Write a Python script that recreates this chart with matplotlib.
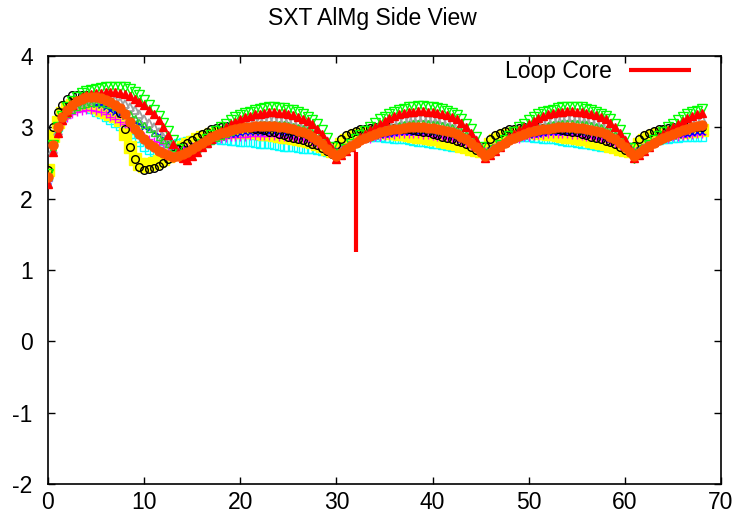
import numpy as np
import matplotlib
matplotlib.use("Agg")
import matplotlib.pyplot as plt

plt.rcParams['font.family'] = ['Liberation Sans', 'DejaVu Sans']
plt.rcParams['axes.unicode_minus'] = False

X_STEP = 0.5

green = [2.35, 2.75, 3.00, 3.16, 3.28, 3.37, 3.43, 3.48, 3.51, 3.53, 3.54, 3.55, 3.56, 3.57, 3.57, 3.57, 3.56, 3.54, 3.50, 3.45, 3.39, 3.32, 3.25, 3.16, 3.06, 2.95, 2.82, 2.70, 2.61, 2.57,
         2.63, 2.70, 2.76, 2.83, 2.89, 2.95, 3.00, 3.05, 3.10, 3.14, 3.17, 3.20, 3.22, 3.24, 3.26, 3.27, 3.28, 3.28, 3.27, 3.27, 3.25, 3.24, 3.22, 3.19, 3.15, 3.10, 3.04, 2.96, 2.85, 2.73, 2.59,
         2.63, 2.69, 2.76, 2.83, 2.89, 2.95, 3.01, 3.06, 3.11, 3.15, 3.19, 3.22, 3.24, 3.26, 3.28, 3.29, 3.30, 3.30, 3.29, 3.29, 3.27, 3.26, 3.23, 3.20, 3.17, 3.12, 3.05, 2.97, 2.86, 2.72, 2.58,
         2.62, 2.68, 2.75, 2.82, 2.88, 2.94, 3.00, 3.05, 3.10, 3.14, 3.18, 3.21, 3.23, 3.25, 3.27, 3.28, 3.29, 3.29, 3.28, 3.28, 3.26, 3.25, 3.22, 3.19, 3.16, 3.11, 3.04, 2.96, 2.85, 2.71, 2.57,
         2.62, 2.68, 2.75, 2.82, 2.88, 2.94, 3.00, 3.05, 3.10, 3.14, 3.18, 3.21, 3.23, 3.26]

red = [2.20, 2.65, 2.92, 3.10, 3.22, 3.32, 3.38, 3.42, 3.45, 3.47, 3.48, 3.48, 3.49, 3.49, 3.49, 3.48, 3.47, 3.44, 3.40, 3.36, 3.31, 3.25, 3.18, 3.10, 3.00, 2.89, 2.77, 2.65, 2.57, 2.54,
       2.60, 2.66, 2.72, 2.78, 2.84, 2.90, 2.95, 3.00, 3.04, 3.08, 3.11, 3.14, 3.16, 3.18, 3.19, 3.20, 3.21, 3.21, 3.20, 3.20, 3.18, 3.17, 3.15, 3.12, 3.09, 3.04, 2.98, 2.91, 2.81, 2.69, 2.56,
       2.61, 2.67, 2.73, 2.79, 2.86, 2.91, 2.96, 3.01, 3.05, 3.09, 3.13, 3.16, 3.18, 3.20, 3.21, 3.22, 3.23, 3.23, 3.22, 3.22, 3.20, 3.19, 3.17, 3.14, 3.11, 3.06, 3.00, 2.92, 2.82, 2.70, 2.57,
       2.61, 2.67, 2.73, 2.79, 2.86, 2.91, 2.96, 3.01, 3.05, 3.09, 3.13, 3.16, 3.18, 3.20, 3.21, 3.22, 3.23, 3.23, 3.22, 3.22, 3.20, 3.19, 3.17, 3.14, 3.11, 3.06, 3.00, 2.92, 2.82, 2.70, 2.57,
       2.61, 2.67, 2.73, 2.79, 2.86, 2.91, 2.96, 3.01, 3.05, 3.09, 3.13, 3.16, 3.18, 3.20]

gray = [2.20, 2.68, 2.95, 3.10, 3.20, 3.28, 3.33, 3.36, 3.38, 3.39, 3.40, 3.40, 3.40, 3.39, 3.38, 3.36, 3.33, 3.29, 3.24, 3.18, 3.12, 3.06, 3.00, 2.93, 2.86, 2.79, 2.71, 2.64, 2.60, 2.60,
        2.65, 2.69, 2.74, 2.79, 2.83, 2.88, 2.92, 2.95, 2.98, 3.02, 3.04, 3.06, 3.08, 3.09, 3.10, 3.11, 3.12, 3.12, 3.11, 3.11, 3.10, 3.09, 3.07, 3.05, 3.03, 2.99, 2.94, 2.89, 2.81, 2.71, 2.62,
        2.66, 2.71, 2.75, 2.80, 2.85, 2.89, 2.93, 2.97, 3.00, 3.03, 3.06, 3.08, 3.10, 3.11, 3.12, 3.13, 3.14, 3.14, 3.13, 3.13, 3.12, 3.11, 3.09, 3.07, 3.04, 3.01, 2.96, 2.90, 2.82, 2.73, 2.63,
        2.66, 2.71, 2.75, 2.80, 2.85, 2.89, 2.93, 2.97, 3.00, 3.03, 3.06, 3.08, 3.10, 3.11, 3.12, 3.13, 3.14, 3.14, 3.13, 3.13, 3.12, 3.11, 3.09, 3.07, 3.04, 3.01, 2.96, 2.90, 2.82, 2.73, 2.63,
        2.66, 2.71, 2.75, 2.80, 2.85, 2.89, 2.93, 2.97, 3.00, 3.03, 3.06, 3.08, 3.10, 3.11]

lightgreen = [2.30, 2.72, 2.97, 3.10, 3.18, 3.24, 3.28, 3.31, 3.33, 3.34, 3.34, 3.34, 3.33, 3.31, 3.29, 3.26, 3.22, 3.18, 3.13, 3.08, 3.03, 2.97, 2.92, 2.87, 2.82, 2.77, 2.71, 2.66, 2.63, 2.62,
              2.66, 2.70, 2.74, 2.77, 2.81, 2.85, 2.88, 2.91, 2.94, 2.96, 2.99, 3.00, 3.02, 3.03, 3.04, 3.05, 3.05, 3.05, 3.05, 3.04, 3.03, 3.02, 3.01, 2.99, 2.97, 2.94, 2.90, 2.86, 2.79, 2.71, 2.63,
              2.67, 2.71, 2.75, 2.78, 2.82, 2.86, 2.89, 2.92, 2.95, 2.97, 3.00, 3.01, 3.03, 3.04, 3.05, 3.06, 3.06, 3.06, 3.06, 3.05, 3.04, 3.03, 3.02, 3.00, 2.98, 2.95, 2.91, 2.87, 2.80, 2.72, 2.64,
              2.67, 2.71, 2.75, 2.78, 2.82, 2.86, 2.89, 2.92, 2.95, 2.97, 3.00, 3.01, 3.03, 3.04, 3.05, 3.06, 3.06, 3.06, 3.06, 3.05, 3.04, 3.03, 3.02, 3.00, 2.98, 2.95, 2.91, 2.87, 2.80, 2.72, 2.64,
              2.67, 2.71, 2.75, 2.78, 2.82, 2.86, 2.89, 2.92, 2.95, 2.97, 3.00, 3.01, 3.03, 3.04]

orange = [2.30, 2.75, 3.00, 3.15, 3.25, 3.32, 3.37, 3.40, 3.42, 3.42, 3.42, 3.41, 3.39, 3.36, 3.32, 3.27, 3.18, 3.08, 2.98, 2.90, 2.83, 2.77, 2.72, 2.67, 2.64, 2.61, 2.59, 2.60, 2.63, 2.66,
          2.70, 2.74, 2.78, 2.82, 2.86, 2.89, 2.92, 2.94, 2.96, 2.98, 2.99, 3.00, 3.01, 3.02, 3.02, 3.02, 3.02, 3.02, 3.01, 3.00, 2.99, 2.97, 2.95, 2.93, 2.90, 2.86, 2.82, 2.76, 2.70, 2.64, 2.60,
          2.64, 2.69, 2.74, 2.78, 2.82, 2.85, 2.88, 2.91, 2.93, 2.95, 2.96, 2.97, 2.98, 2.99, 3.00, 3.00, 3.00, 3.00, 2.99, 2.99, 2.98, 2.96, 2.95, 2.93, 2.90, 2.87, 2.83, 2.78, 2.72, 2.66, 2.60,
          2.64, 2.69, 2.74, 2.78, 2.82, 2.85, 2.88, 2.91, 2.93, 2.95, 2.96, 2.97, 2.98, 2.99, 3.00, 3.00, 3.00, 3.00, 2.99, 2.99, 2.98, 2.96, 2.95, 2.93, 2.90, 2.87, 2.83, 2.78, 2.72, 2.66, 2.60,
          2.64, 2.69, 2.74, 2.78, 2.82, 2.85, 2.88, 2.91, 2.94, 2.96, 2.98, 3.00, 3.02, 3.03]

blue = [2.25, 2.70, 2.95, 3.10, 3.20, 3.27, 3.31, 3.33, 3.34, 3.34, 3.33, 3.31, 3.28, 3.25, 3.22, 3.19, 3.16, 3.12, 3.08, 3.04, 3.00, 2.97, 2.93, 2.89, 2.85, 2.79, 2.72, 2.67, 2.66, 2.68,
        2.71, 2.74, 2.77, 2.80, 2.83, 2.85, 2.87, 2.89, 2.90, 2.91, 2.92, 2.93, 2.93, 2.94, 2.94, 2.94, 2.94, 2.94, 2.93, 2.93, 2.92, 2.91, 2.90, 2.88, 2.86, 2.83, 2.80, 2.76, 2.72, 2.68, 2.65,
        2.68, 2.72, 2.76, 2.79, 2.82, 2.84, 2.86, 2.88, 2.89, 2.90, 2.91, 2.92, 2.93, 2.93, 2.94, 2.94, 2.94, 2.94, 2.94, 2.93, 2.93, 2.92, 2.90, 2.88, 2.86, 2.83, 2.80, 2.76, 2.72, 2.68, 2.65,
        2.68, 2.72, 2.76, 2.79, 2.82, 2.84, 2.86, 2.88, 2.89, 2.90, 2.91, 2.92, 2.93, 2.93, 2.94, 2.94, 2.94, 2.94, 2.94, 2.93, 2.93, 2.92, 2.90, 2.88, 2.86, 2.83, 2.80, 2.76, 2.72, 2.68, 2.65,
        2.68, 2.72, 2.76, 2.79, 2.82, 2.84, 2.86, 2.88, 2.89, 2.90, 2.91, 2.92, 2.93, 2.93]

magenta = [2.25, 2.65, 2.90, 3.05, 3.13, 3.18, 3.21, 3.23, 3.24, 3.24, 3.23, 3.21, 3.18, 3.15, 3.12, 3.08, 3.04, 3.00, 2.96, 2.92, 2.88, 2.84, 2.81, 2.79, 2.77, 2.73, 2.69, 2.68, 2.70, 2.72,
           2.74, 2.76, 2.78, 2.80, 2.81, 2.83, 2.84, 2.85, 2.86, 2.86, 2.87, 2.87, 2.88, 2.88, 2.88, 2.88, 2.88, 2.88, 2.87, 2.87, 2.86, 2.85, 2.84, 2.83, 2.81, 2.79, 2.77, 2.74, 2.71, 2.68, 2.67,
           2.70, 2.73, 2.76, 2.79, 2.81, 2.83, 2.84, 2.86, 2.87, 2.88, 2.89, 2.89, 2.90, 2.90, 2.90, 2.90, 2.90, 2.89, 2.89, 2.88, 2.87, 2.86, 2.85, 2.83, 2.81, 2.79, 2.77, 2.74, 2.71, 2.68, 2.67,
           2.70, 2.73, 2.76, 2.79, 2.81, 2.83, 2.84, 2.86, 2.87, 2.88, 2.89, 2.89, 2.90, 2.90, 2.90, 2.90, 2.90, 2.89, 2.89, 2.88, 2.87, 2.86, 2.85, 2.83, 2.81, 2.79, 2.77, 2.74, 2.71, 2.68, 2.67,
           2.70, 2.73, 2.76, 2.79, 2.81, 2.83, 2.84, 2.86, 2.87, 2.88, 2.89, 2.89, 2.90, 2.90]

cyan = [2.30, 2.78, 3.00, 3.15, 3.25, 3.30, 3.32, 3.31, 3.29, 3.26, 3.22, 3.18, 3.14, 3.10, 3.06, 3.02, 2.97, 2.91, 2.85, 2.79, 2.73, 2.68, 2.65,
        2.67, 2.70, 2.73, 2.76, 2.78, 2.80, 2.81, 2.82, 2.82, 2.83, 2.83, 2.83, 2.83, 2.82, 2.82, 2.81, 2.81, 2.80, 2.80, 2.79, 2.78, 2.77, 2.77, 2.76, 2.75, 2.74, 2.73, 2.72, 2.72, 2.71, 2.70, 2.70, 2.69, 2.68, 2.67, 2.66, 2.66, 2.69,
        2.74, 2.78, 2.81, 2.83, 2.85, 2.86, 2.86, 2.86, 2.86, 2.85, 2.85, 2.84, 2.84, 2.83, 2.82, 2.81, 2.80, 2.79, 2.78, 2.77, 2.76, 2.75, 2.74, 2.73, 2.72, 2.72, 2.71, 2.70, 2.69, 2.69, 2.70,
        2.74, 2.78, 2.81, 2.83, 2.85, 2.86, 2.86, 2.86, 2.86, 2.85, 2.85, 2.84, 2.84, 2.83, 2.82, 2.81, 2.80, 2.79, 2.78, 2.77, 2.76, 2.75, 2.74, 2.73, 2.72, 2.72, 2.71, 2.70, 2.69, 2.69, 2.70,
        2.74, 2.77, 2.79, 2.81, 2.82, 2.83, 2.84, 2.85, 2.85, 2.86, 2.86, 2.86, 2.86, 2.86]

yellow = [2.40, 2.88, 3.08, 3.20, 3.28, 3.32, 3.34, 3.34, 3.33, 3.31, 3.28, 3.25, 3.22, 3.19, 3.16, 3.10,
          2.90, 2.72, 2.56, 2.48, 2.46, 2.48, 2.50, 2.53, 2.56, 2.60, 2.64, 2.68, 2.72, 2.76, 2.80,
          2.83, 2.86, 2.88, 2.90, 2.91, 2.92, 2.93, 2.94, 2.94, 2.94, 2.94, 2.94, 2.93, 2.92, 2.91,
          2.90, 2.89, 2.88, 2.87, 2.86, 2.85, 2.84, 2.82, 2.81, 2.79, 2.77, 2.74, 2.70, 2.67, 2.70,
          2.76, 2.82, 2.86, 2.89, 2.91, 2.92, 2.93, 2.93, 2.93, 2.93, 2.92, 2.92, 2.91, 2.90, 2.89, 2.88, 2.87, 2.86, 2.85, 2.84, 2.83, 2.81, 2.80, 2.78, 2.76, 2.74, 2.72, 2.70, 2.68, 2.67, 2.70,
          2.76, 2.82, 2.86, 2.89, 2.91, 2.92, 2.93, 2.93, 2.93, 2.93, 2.92, 2.92, 2.91, 2.90, 2.89, 2.88, 2.87, 2.86, 2.85, 2.84, 2.83, 2.81, 2.80, 2.78, 2.76, 2.74, 2.72, 2.70, 2.68, 2.67, 2.70,
          2.76, 2.82, 2.86, 2.89, 2.91, 2.92, 2.93, 2.93, 2.94, 2.94, 2.95, 2.95, 2.96, 2.96]

black = [2.40, 3.00, 3.22, 3.32, 3.40, 3.45, 3.46, 3.46, 3.45, 3.44, 3.42, 3.40, 3.38, 3.35, 3.30, 3.20,
         2.98, 2.72, 2.55, 2.44, 2.40, 2.41, 2.43, 2.46, 2.50, 2.56, 2.63, 2.69, 2.74, 2.78, 2.82,
         2.86, 2.90, 2.94, 2.97, 2.99, 3.01, 3.02, 3.02, 3.02, 3.01, 3.00, 2.99, 2.98, 2.97, 2.96,
         2.94, 2.93, 2.91, 2.89, 2.87, 2.85, 2.84, 2.82, 2.80, 2.77, 2.75, 2.71, 2.67, 2.63, 2.75,
         2.84, 2.89, 2.92, 2.95, 2.97, 2.98, 2.99, 3.00, 3.00, 3.00, 3.00, 2.99, 2.99, 2.98, 2.97, 2.96, 2.95, 2.94, 2.93, 2.91, 2.89, 2.87, 2.85, 2.83, 2.81, 2.79, 2.76, 2.72, 2.68, 2.65, 2.74,
         2.84, 2.89, 2.92, 2.95, 2.97, 2.98, 2.99, 3.00, 3.00, 3.00, 3.00, 2.99, 2.99, 2.98, 2.97, 2.96, 2.95, 2.94, 2.93, 2.91, 2.89, 2.87, 2.85, 2.83, 2.81, 2.79, 2.76, 2.72, 2.68, 2.65, 2.74,
         2.84, 2.89, 2.92, 2.95, 2.97, 2.98, 2.99, 3.00, 3.00, 3.00, 3.00, 3.00, 3.00, 3.00]

loop_core_x = [32, 32]
loop_core_y = [1.25, 2.65]

x_ticks = [0, 10, 20, 30, 40, 50, 60, 70]
y_ticks = [-2, -1, 0, 1, 2, 3, 4]

FS = 16.5

fig = plt.figure(figsize=(7.43, 5.2), dpi=100)
ax = fig.add_axes([48/743, 1-484/520, (721-48)/743, (484-56)/520])

def xs(v):
    return np.arange(len(v)) * X_STEP

series = [
    (cyan, dict(marker='s', color='#00ffff', ms=5.5, mfc='none', mew=1.0), 1),
    (yellow, dict(marker='s', color='#ffff00', ms=8, mec='#ffff00', mfc='#ffff00'), 2),
    (magenta, dict(marker='+', color='#ff00ff', ms=6, mew=1.0), 3),
    (blue, dict(marker='x', color='#0000ff', ms=5, mew=1.0), 4),
    (black, dict(marker='o', color='black', ms=5.5, mfc='none', mew=1.0), 5),
    (gray, dict(marker='^', color='#a0a0a0', ms=6, mfc='none', mew=1.3), 6),
    (lightgreen, dict(marker='^', color='#22dd22', ms=5, mfc='none', mew=1.0), 7),
    (green, dict(marker='v', color='#00ff00', ms=7, mfc='none', mew=1.0), 8),
    (red, dict(marker='^', color='#ff0000', ms=6, mec='#ff0000', mfc='#ff0000'), 9),
    (orange, dict(marker='o', color='#ff5500', ms=6.5, mec='#ff5500', mfc='#ff5500'), 10),
]
for vals, style, z in series:
    ax.plot(xs(vals), vals, linestyle='none', zorder=z, **style)

ax.plot(loop_core_x, loop_core_y, color='#ff0000', lw=3, zorder=20, label='Loop Core',
        solid_capstyle='butt')

ax.set_xlim(0, 70)
ax.set_ylim(-2, 4)
ax.set_xticks(x_ticks)
ax.set_yticks(y_ticks)
ax.tick_params(direction='in', length=5, width=1, top=True, right=True, labelsize=FS)
ax.tick_params(axis='x', pad=5)
ax.tick_params(axis='y', pad=11)
for s in ax.spines.values():
    s.set_linewidth(1.2)

leg = ax.legend(loc='upper right', bbox_to_anchor=(0.955, 0.99), frameon=False,
                markerfirst=False, handlelength=2.7, fontsize=FS, borderpad=0,
                borderaxespad=0, handletextpad=0.75)

fig.text(372/743, 1 - 19/520, 'SXT AlMg Side View', ha='center', va='center', fontsize=FS)

fig.savefig('out.png', dpi=100)
